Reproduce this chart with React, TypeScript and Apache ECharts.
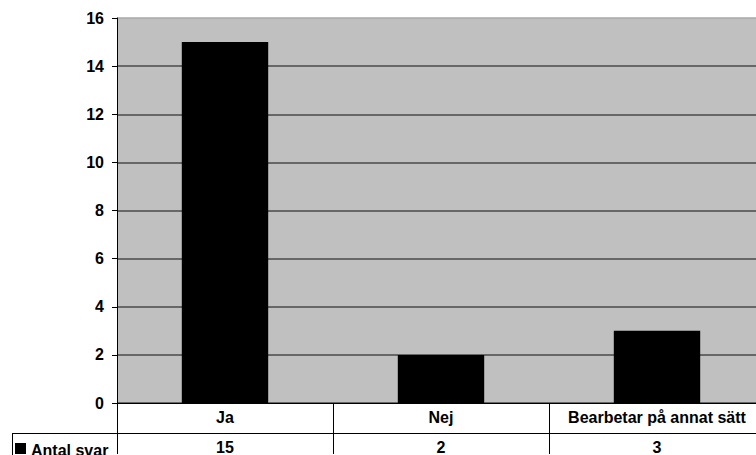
import React, { useEffect, useRef } from "react";
import * as echarts from "echarts";

const categories = ["Ja", "Nej", "Bearbetar på annat sätt"];
const values = [15, 2, 3];
const seriesName = "Antal svar";
const yTicks = { min: 0, max: 16, interval: 2 };

const FONT = "Arial, 'Liberation Sans', sans-serif";

export default function App() {
  const ref = useRef<HTMLDivElement>(null);
  useEffect(() => {
    if (!ref.current) return;
    const chart = echarts.init(ref.current, undefined, { renderer: "svg" });
    const gridColors = ["#4a4a4a", "#4a4a4a", "#4a4a4a", "#4a4a4a", "#4a4a4a", "#4a4a4a", "#4a4a4a", "#4a4a4a", "#a8a8a8"];
    chart.setOption({
      animation: false,
      grid: { left: 117, top: 18, bottom: 51, right: 5, show: true, backgroundColor: "#c0c0c0", borderWidth: 0 },
      xAxis: [
        {
          type: "category",
          data: categories,
          position: "bottom",
          axisLine: { show: true, lineStyle: { color: "#000", width: 1 } },
          axisTick: { show: true, length: 51, alignWithLabel: false, lineStyle: { color: "#000" } },
          axisLabel: { color: "#000", fontWeight: "bold", fontSize: 16, fontFamily: FONT, margin: 6, interval: 0 },
        },
        {
          type: "category",
          data: values.map((v) => String(v)),
          position: "bottom",
          offset: 29,
          axisLine: { show: false },
          axisTick: { show: false },
          axisLabel: { color: "#000", fontWeight: "bold", fontSize: 16, fontFamily: FONT, margin: 7, interval: 0 },
        },
      ],
      yAxis: {
        type: "value",
        min: yTicks.min,
        max: yTicks.max,
        interval: yTicks.interval,
        axisLine: { show: true, lineStyle: { color: "#000" } },
        axisTick: { show: true, length: 5, lineStyle: { color: "#000" } },
        axisLabel: { color: "#000", fontWeight: "bold", fontSize: 16, fontFamily: FONT, margin: 13 },
        splitLine: { show: true, lineStyle: { color: gridColors, width: 1.6 } },
      },
      series: [
        {
          name: seriesName,
          type: "bar",
          data: values,
          xAxisIndex: 0,
          barWidth: "40%",
          itemStyle: { color: "#000" },
        },
      ],
      graphic: [
        { type: "line", shape: { x1: 12, y1: 433.5, x2: 770, y2: 433.5 }, style: { stroke: "#000", lineWidth: 1 } },
        { type: "line", shape: { x1: 12.5, y1: 433, x2: 12.5, y2: 455 }, style: { stroke: "#000", lineWidth: 1 } },
        { type: "rect", shape: { x: 15, y: 443, width: 11, height: 11 }, style: { fill: "#000" } },
        {
          type: "text",
          x: 31,
          y: 450,
          style: { text: seriesName, fill: "#000", font: `bold 16px ${FONT}`, verticalAlign: "middle" },
        },
      ],
    });
    return () => chart.dispose();
  }, []);
  return (
    <div style={{ position: "fixed", left: 0, top: 0, width: 756, height: 455, overflow: "hidden", background: "#fff" }}>
      <div ref={ref} style={{ width: 770, height: 455 }} />
    </div>
  );
}
